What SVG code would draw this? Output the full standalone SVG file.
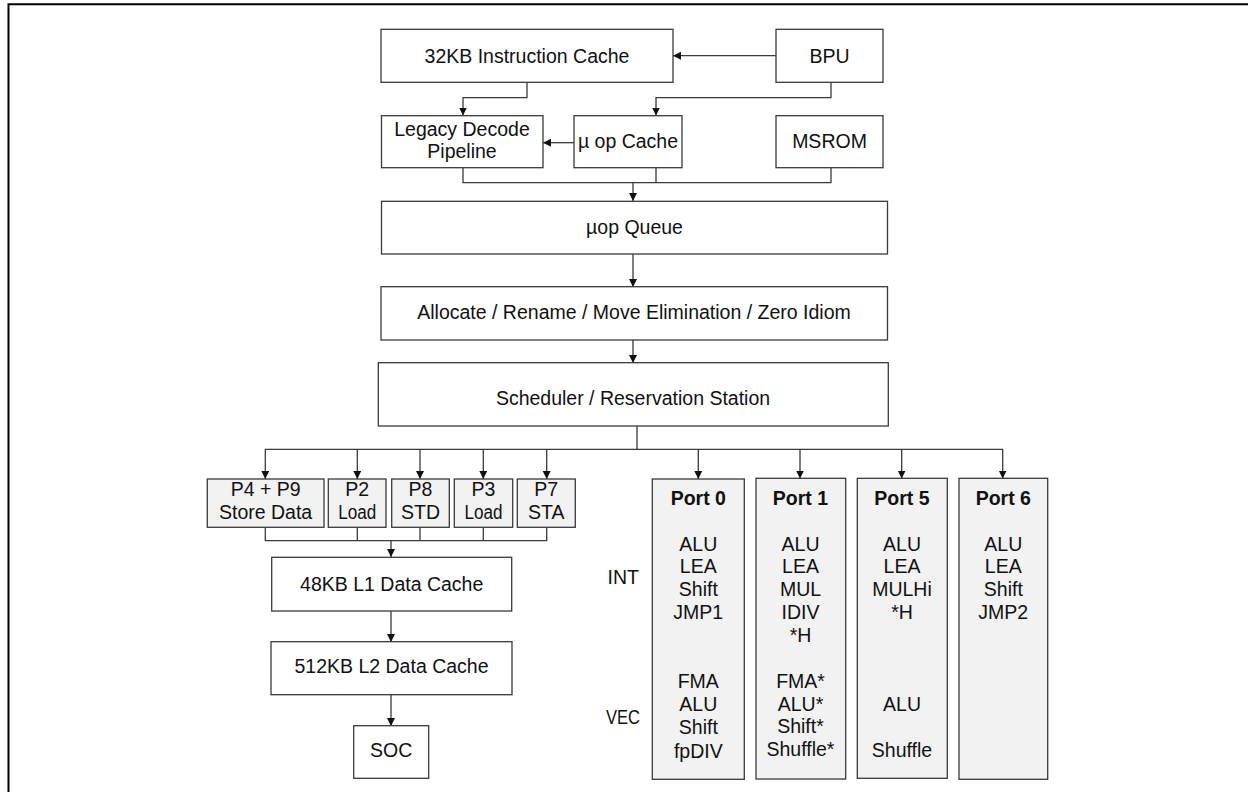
<svg xmlns="http://www.w3.org/2000/svg" width="1248" height="792" viewBox="0 0 1248 792">
<defs>
<style>
.b{fill:#fff;stroke:#3a3a3a;stroke-width:1.3}
.g{fill:#f2f2f2;stroke:#3a3a3a;stroke-width:1.3}
.t{font-family:"Liberation Sans",Arial,sans-serif;font-size:19.5px;fill:#111;text-anchor:middle}
.h{font-weight:bold}
.c{fill:none;stroke:#3a3a3a;stroke-width:1.3}
.a{marker-end:url(#ah)}
</style>
<marker id="ah" markerUnits="userSpaceOnUse" markerWidth="10" markerHeight="10" refX="8" refY="4" orient="auto">
<path d="M0,0 L8,4 L0,8 z" fill="#111"/>
</marker>
</defs>
<rect width="1248" height="792" fill="#fff"/>
<path d="M8.5,792 V4.3 H1248" fill="none" stroke="#000" stroke-width="2"/>

<g id="connectors">
<path class="c a" d="M776,55.7 H673"/>
<path class="c a" d="M527,82 V97.7 H463 V115.5"/>
<path class="c a" d="M831,82 V97.7 H656 V115.5"/>
<path class="c a" d="M574,142.7 H543"/>
<path class="c" d="M463,168 V182.7 H831 V168 M656,168 V182.7"/>
<path class="c a" d="M633,182.7 V201"/>
<path class="c a" d="M633,254 V287"/>
<path class="c a" d="M633,340 V363"/>
<path class="c" d="M637,426 V449.3 M265,449.3 H1003"/>
<path class="c a" d="M265.3,449.3 V479"/>
<path class="c a" d="M357.3,449.3 V479"/>
<path class="c a" d="M420,449.3 V479"/>
<path class="c a" d="M483.3,449.3 V479"/>
<path class="c a" d="M546.7,449.3 V479"/>
<path class="c a" d="M698.3,449.3 V479"/>
<path class="c a" d="M800,449.3 V478.5"/>
<path class="c a" d="M901.7,449.3 V478.5"/>
<path class="c a" d="M1002.7,449.3 V478.5"/>
<path class="c" d="M265.3,527 V540.7 H546.7 V527 M357.3,527 V540.7 M420,527 V540.7 M483.3,527 V540.7"/>
<path class="c a" d="M391,540.7 V557"/>
<path class="c a" d="M391,611 V642"/>
<path class="c a" d="M391,695 V726"/>
</g>

<g id="icache"><rect class="b" x="381" y="29.3" width="292" height="53"/><text class="t" x="527" y="63.3">32KB Instruction Cache</text></g>
<g id="bpu"><rect class="b" x="776" y="29.3" width="107" height="53"/><text class="t" x="829.5" y="63.3">BPU</text></g>
<g id="legacy"><rect class="b" x="381.5" y="115.7" width="161.5" height="52"/><text class="t" x="462" y="136">Legacy Decode</text><text class="t" x="462" y="158">Pipeline</text></g>
<g id="uopcache"><rect class="b" x="574" y="115.7" width="108" height="52"/><text class="t" x="628" y="147.7">µ op Cache</text></g>
<g id="msrom"><rect class="b" x="776" y="115.7" width="107" height="52"/><text class="t" x="829.5" y="147.7">MSROM</text></g>
<g id="uopqueue"><rect class="b" x="381.5" y="201.3" width="506" height="52.7"/><text class="t" x="634.5" y="234">µop Queue</text></g>
<g id="allocate"><rect class="b" x="381" y="286.7" width="506.5" height="53.3"/><text class="t" x="634" y="319">Allocate / Rename / Move Elimination / Zero Idiom</text></g>
<g id="scheduler"><rect class="b" x="378.3" y="362.7" width="510" height="63.3"/><text class="t" x="633" y="405.3">Scheduler / Reservation Station</text></g>

<g id="p4p9"><rect class="g" x="207.3" y="479" width="116.7" height="48.3"/><text class="t" x="265.6" y="496">P4 + P9</text><text class="t" x="265.6" y="519.3">Store Data</text></g>
<g id="p2"><rect class="g" x="328.3" y="479" width="57.7" height="48.3"/><text class="t" x="357.2" y="496">P2</text><text class="t" x="357.2" y="519.3" textLength="38" lengthAdjust="spacingAndGlyphs">Load</text></g>
<g id="p8"><rect class="g" x="391.7" y="479" width="57.6" height="48.3"/><text class="t" x="420.5" y="496">P8</text><text class="t" x="420.5" y="519.3">STD</text></g>
<g id="p3"><rect class="g" x="454.3" y="479" width="58.4" height="48.3"/><text class="t" x="483.5" y="496">P3</text><text class="t" x="483.5" y="519.3" textLength="38" lengthAdjust="spacingAndGlyphs">Load</text></g>
<g id="p7"><rect class="g" x="517.3" y="479" width="58" height="48.3"/><text class="t" x="546.3" y="496">P7</text><text class="t" x="546.3" y="519.3">STA</text></g>

<g id="l1"><rect class="b" x="271.7" y="557.3" width="240" height="53.7"/><text class="t" x="391.7" y="591">48KB L1 Data Cache</text></g>
<g id="l2"><rect class="b" x="271" y="641.7" width="241" height="53"/><text class="t" x="391.5" y="673.3">512KB L2 Data Cache</text></g>
<g id="soc"><rect class="b" x="353.7" y="725.7" width="75" height="52.6"/><text class="t" x="391.2" y="757.3">SOC</text></g>

<g id="labels"><text class="t" x="623.3" y="584.3">INT</text><text class="t" x="623" y="724" textLength="34" lengthAdjust="spacingAndGlyphs">VEC</text></g>

<g id="port0"><rect class="g" x="652.3" y="479" width="92" height="300.3"/>
<text class="t h" x="698.3" y="505">Port 0</text>
<text class="t" x="698.3" y="550.7">ALU</text><text class="t" x="698.3" y="573.3">LEA</text><text class="t" x="698.3" y="596">Shift</text><text class="t" x="698.3" y="619">JMP1</text>
<text class="t" x="698.3" y="688.3">FMA</text><text class="t" x="698.3" y="711">ALU</text><text class="t" x="698.3" y="734">Shift</text><text class="t" x="698.3" y="757.7">fpDIV</text></g>
<g id="port1"><rect class="g" x="756" y="478.3" width="89.7" height="300.7"/>
<text class="t h" x="800.5" y="505">Port 1</text>
<text class="t" x="800.5" y="550.7">ALU</text><text class="t" x="800.5" y="573.3">LEA</text><text class="t" x="800.5" y="596">MUL</text><text class="t" x="800.5" y="619">IDIV</text><text class="t" x="800.5" y="641.7">*H</text>
<text class="t" x="800.5" y="687.7">FMA*</text><text class="t" x="800.5" y="710.5">ALU*</text><text class="t" x="800.5" y="733.3">Shift*</text><text class="t" x="800.5" y="756">Shuffle*</text></g>
<g id="port5"><rect class="g" x="857.3" y="478.3" width="90" height="300"/>
<text class="t h" x="902" y="505">Port 5</text>
<text class="t" x="902" y="550.7">ALU</text><text class="t" x="902" y="573.3">LEA</text><text class="t" x="902" y="596">MULHi</text><text class="t" x="902" y="619">*H</text>
<text class="t" x="902" y="710.7">ALU</text><text class="t" x="902" y="757.3">Shuffle</text></g>
<g id="port6"><rect class="g" x="959" y="478.3" width="88.7" height="301"/>
<text class="t h" x="1003.3" y="505">Port 6</text>
<text class="t" x="1003.3" y="550.7">ALU</text><text class="t" x="1003.3" y="573.3">LEA</text><text class="t" x="1003.3" y="596">Shift</text><text class="t" x="1003.3" y="619">JMP2</text></g>
</svg>
